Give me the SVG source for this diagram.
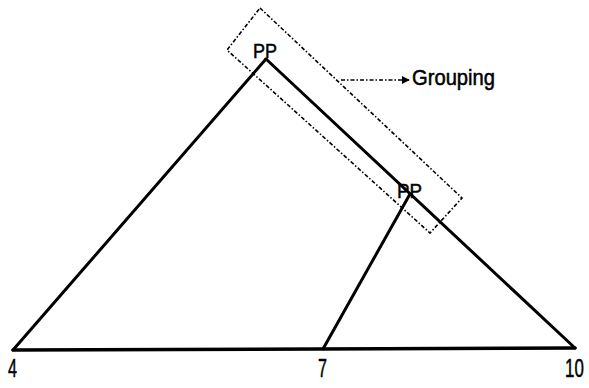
<svg xmlns="http://www.w3.org/2000/svg" width="589" height="388" viewBox="0 0 589 388">
<style>
text{font-family:"Liberation Sans",Arial,sans-serif;fill:#000;stroke:#000;stroke-width:0.5}
.lbl{font-size:26px}
.pp{font-size:20px}
.edge{stroke:#000;stroke-width:3;fill:none;stroke-linecap:round}
.grp{stroke:#000;stroke-width:1.6;fill:none;stroke-dasharray:4 2 1.5 2}
</style>
<defs>
<marker id="ah" viewBox="0 0 10 10" refX="9" refY="5" markerWidth="8" markerHeight="8" markerUnits="userSpaceOnUse" orient="auto">
<path d="M0,0 L10,5 L0,10 Z" fill="#000"/>
</marker>
</defs>
<rect width="589" height="388" fill="#fff"/>
<g id="connectors">
<line class="edge" x1="13" y1="350" x2="266" y2="59"/>
<line class="edge" x1="266" y1="59" x2="575" y2="348"/>
<line class="edge" x1="410" y1="194" x2="323" y2="349"/>
<line class="edge" x1="13" y1="350" x2="575" y2="348" style="stroke-width:3.5"/>
<line x1="341" y1="80" x2="409" y2="80" stroke="#000" stroke-width="1.6" stroke-dasharray="4 2 1.5 2" marker-end="url(#ah)"/>
</g>
<g id="node-pp1"><text class="pp" x="253" y="58" textLength="24" lengthAdjust="spacingAndGlyphs">PP</text></g>
<g id="node-pp2"><text class="pp" x="397" y="198" textLength="25" lengthAdjust="spacingAndGlyphs">PP</text></g>
<g id="node-4"><text class="lbl" transform="translate(8,377) scale(0.62,1)">4</text></g>
<g id="node-7"><text class="lbl" transform="translate(318,377) scale(0.62,1)">7</text></g>
<g id="node-10"><text class="lbl" transform="translate(565,377) scale(0.65,1)">10</text></g>
<g id="grouping">
<polygon class="grp" points="260,8 462,198 430,233 227,50"/>
<text x="412" y="85" font-size="22" textLength="83" lengthAdjust="spacingAndGlyphs">Grouping</text>
</g>
</svg>
